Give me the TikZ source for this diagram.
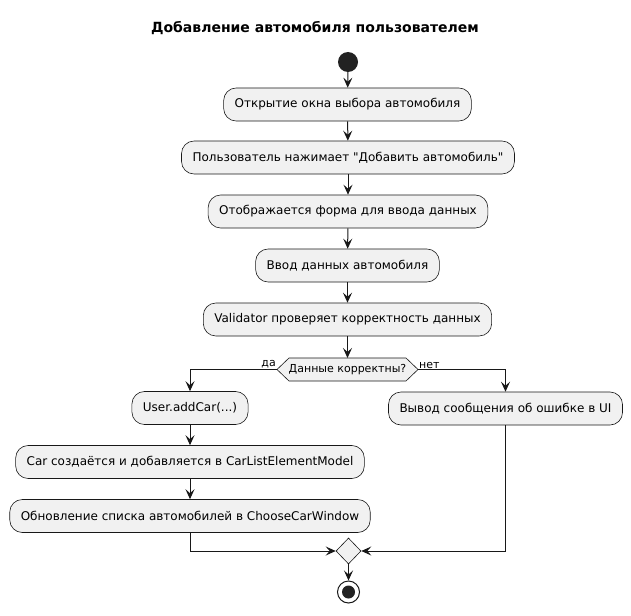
\documentclass[tikz,border=0pt]{standalone}
\usepackage{fontspec}
\setmainfont[Ligatures=TeXOff]{DejaVu Sans}
\usetikzlibrary{arrows.meta,shapes.geometric}
\definecolor{boxfill}{HTML}{F1F1F1}
\definecolor{ink}{HTML}{181818}
\definecolor{dot}{HTML}{222222}
\tikzset{
  action/.style={draw=ink, line width=0.6pt, fill=boxfill, rounded corners=12.5pt,
    minimum height=33pt, inner xsep=11pt, font=\fontsize{12}{14}\selectfont},
  flow/.style={draw=ink, line width=1pt,
    -{Stealth[length=10pt,width=9pt,inset=4pt]}},
  plain/.style={draw=ink, line width=1pt},
  guard/.style={font=\fontsize{11}{13}\selectfont, inner sep=1pt},
}
\begin{document}
\begin{tikzpicture}[x=1pt,y=-1pt]
\useasboundingbox (0,0) rectangle (631,615);
\fill[white] (0,0) rectangle (631,615);

\node[font=\bfseries\fontsize{14}{16}\selectfont] (title) at (315,28) {Добавление автомобиля пользователем};

\node[circle, fill=dot, minimum size=20pt, inner sep=0] (start) at (348,62) {};

\node[action] (b1) at (347.5,104.5) {Открытие окна выбора автомобиля};
\node[action] (b2) at (348,157.5) {Пользователь нажимает "Добавить автомобиль"};
\node[action] (b3) at (348,211.5) {Отображается форма для ввода данных};
\node[action] (b4) at (347.5,265.5) {Ввод данных автомобиля};
\node[action] (b5) at (347.5,319.5) {Validator проверяет корректность данных};

% decision hexagon
\filldraw[draw=ink, line width=0.6pt, fill=boxfill]
  (277,369.5) -- (289,358) -- (406,358) -- (418,369.5) -- (406,381) -- (289,381) -- cycle;
\node[font=\fontsize{11}{13}\selectfont, inner sep=0] (dec) at (347.5,369.5) {Данные корректны?};
\coordinate (decT) at (347.5,358);
\coordinate (decL) at (277,369.5);
\coordinate (decR) at (418,369.5);

\node[action] (b6) at (190,408) {User.addCar(...)};
\node[action] (err) at (505.5,408.5) {Вывод сообщения об ошибке в UI};
\node[action] (b7) at (190,462) {Car создаётся и добавляется в CarListElementModel};
\node[action] (b8) at (190,516) {Обновление списка автомобилей в ChooseCarWindow};

\node[diamond, draw=ink, line width=0.6pt, fill=boxfill, minimum width=25pt,
  minimum height=26pt, inner sep=0] (merge) at (348.5,551) {};

\node[circle, draw=ink, line width=1pt, fill=white, minimum size=22pt, inner sep=0] (stop) at (348.5,592) {};
\node[circle, fill=dot, minimum size=13pt, inner sep=0] (stopdot) at (stop.center) {};

% connectors
\draw[flow] (start) -- (b1);
\draw[flow] (b1) -- (b2);
\draw[flow] (b2) -- (b3);
\draw[flow] (b3) -- (b4);
\draw[flow] (b4) -- (b5);
\draw[flow] (b5) -- (decT);
\draw[flow] (decL) -| (b6.north);
\draw[flow] (decR) -| (err.north);
\node[guard, anchor=south east] (yes) at (decL) {да};
\node[guard, anchor=south west] (no) at (decR) {нет};
\draw[flow] (b6) -- (b7);
\draw[flow] (b7) -- (b8);
\draw[flow] (b8.south) |- (merge.west);
\draw[flow] (err.south) |- (merge.east);
\draw[flow] (merge.south) -- (stop.north);
\end{tikzpicture}
\end{document}
